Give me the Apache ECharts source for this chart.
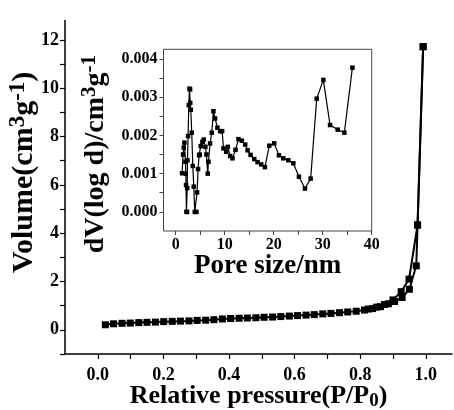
<!DOCTYPE html>
<html>
<head>
<meta charset="utf-8">
<script src="https://cdn.jsdelivr.net/npm/echarts@6/dist/echarts.min.js"></script>
<style>html,body{margin:0;padding:0;background:#fff}#c{width:454px;height:410px}</style>
</head>
<body>
<div id="c"></div>
<script>
// Main isotherm (adsorption / desorption)
var adsP = [0.023,0.048,0.074,0.099,0.125,0.150,0.176,0.201,0.227,0.252,0.278,0.303,0.329,0.354,0.380,0.405,0.431,0.456,0.482,0.507,0.533,0.558,0.584,0.609,0.635,0.660,0.686,0.711,0.737,0.762,0.788,0.813,0.838,0.862,0.886,0.905,0.928,0.950,0.971,0.975,0.992];
var adsV = [0.21,0.25,0.27,0.28,0.30,0.31,0.32,0.34,0.35,0.36,0.37,0.39,0.40,0.42,0.45,0.47,0.48,0.49,0.50,0.52,0.53,0.55,0.57,0.59,0.61,0.63,0.66,0.68,0.71,0.74,0.77,0.82,0.88,0.96,1.08,1.17,1.34,1.68,2.65,4.34,11.72];
var desP = [0.992,0.975,0.949,0.925,0.900,0.874,0.850,0.825];
var desV = [11.72,4.34,2.10,1.58,1.24,1.05,0.94,0.86];
// Inset: pore size distribution
var poreD = [1.29,1.5,1.64,1.77,1.98,2.05,2.1,2.18,2.3,2.34,2.39,2.52,2.66,2.8,2.93,2.96,3.07,3.27,3.48,3.68,3.88,4.22,4.35,4.56,4.76,4.9,5.1,5.44,5.71,6.05,6.26,6.53,6.67,7.01,7.35,7.69,8.03,8.51,9.06,9.47,9.74,10.29,10.63,11.1,11.58,12.2,12.8,13.5,14.18,14.66,15.27,16.02,16.7,17.45,18.2,19.09,20.1,21.06,21.95,22.97,24.0,25.15,26.38,27.54,28.77,30.13,31.5,33.06,34.42,36.06];
var poreV = [0.00101,0.0015,0.00168,0.00181,0.00131,0.00100,0.00070,0.0,0.0,0.00062,0.00135,0.00198,0.00279,0.00322,0.00320,0.00285,0.00267,0.00207,0.00120,0.00066,0.0,0.0,0.00051,0.00112,0.00148,0.00150,0.00172,0.00183,0.00189,0.00170,0.00150,0.00100,0.00131,0.00179,0.00207,0.00263,0.00244,0.00220,0.00211,0.00211,0.00166,0.00157,0.00170,0.00146,0.00140,0.00162,0.00190,0.00186,0.00176,0.00161,0.00149,0.00138,0.00130,0.00124,0.00117,0.00173,0.00179,0.00148,0.00140,0.00135,0.00127,0.00092,0.00061,0.00087,0.00296,0.00345,0.00227,0.00215,0.00207,0.00377];
var mainXTicks = [0,0.1,0.2,0.3,0.4,0.5,0.6,0.7,0.8,0.9,1.0];
var mainXLabels = [0,0.2,0.4,0.6,0.8,1.0];
var mainYTicks = [-1,0,1,2,3,4,5,6,7,8,9,10,11,12];
var mainYLabels = [0,2,4,6,8,10,12];
var insetXTicks = [0,5,10,15,20,25,30,35,40];
var insetXLabels = [0,10,20,30,40];
var insetYTicks = [0,0.0005,0.001,0.0015,0.002,0.0025,0.003,0.0035,0.004];
var insetYLabels = [0,0.001,0.002,0.003,0.004];

function pairs(a,b){var r=[];for(var i=0;i<a.length;i++)r.push([a[i],b[i]]);return r;}
var FF = 'Liberation Serif';
var chart = echarts.init(document.getElementById('c'), null, {renderer:'canvas'});
var supRich = {
  n:{fontSize:30,fontWeight:'bold',fontFamily:FF,color:'#000',lineHeight:34},
  s:{fontSize:23,fontWeight:'bold',fontFamily:FF,color:'#000',lineHeight:22,verticalAlign:'top'}
};
var supRich2 = {
  n:{fontSize:28,fontWeight:'bold',fontFamily:FF,color:'#000',lineHeight:32},
  s:{fontSize:21,fontWeight:'bold',fontFamily:FF,color:'#000',lineHeight:21,verticalAlign:'top'}
};
chart.setOption({
  backgroundColor:'#fff',
  animation:false,
  grid:[
    {left:65,right:2,top:20.6,bottom:56,containLabel:false,outerBoundsMode:'none'},
    {left:163.5,top:49.3,width:208.2,height:181.7,show:true,borderColor:'#444',borderWidth:1,backgroundColor:'#fff',containLabel:false,outerBoundsMode:'none'}
  ],
  xAxis:[
    {type:'value',gridIndex:0,min:-0.1,max:1.08,nameMoveOverlap:false,
     axisLine:{show:true,onZero:false,lineStyle:{color:'#000',width:1.5}},
     axisTick:{show:true,inside:false,length:5,customValues:mainXTicks,lineStyle:{color:'#000',width:1.2}},
     axisLabel:{customValues:mainXLabels,margin:12,fontSize:18,fontWeight:'bold',fontFamily:FF,color:'#000',formatter:function(v){return v.toFixed(1);}},
     splitLine:{show:false},
     name:'{n|Relative pressure(P/P}{b|0}{n|)}',nameLocation:'middle',nameGap:27,
     nameTextStyle:{rich:{n:{fontSize:26,fontWeight:'bold',fontFamily:FF,color:'#000',lineHeight:30},b:{fontSize:19,fontWeight:'bold',fontFamily:FF,color:'#000',lineHeight:19,verticalAlign:'bottom'}}}
    },
    {type:'value',gridIndex:1,min:-2.5,max:40,nameMoveOverlap:false,
     axisLine:{show:false,onZero:false},
     axisTick:{show:true,inside:false,length:4,customValues:insetXTicks,lineStyle:{color:'#444',width:1}},
     axisLabel:{customValues:insetXLabels,margin:6,fontSize:16,fontWeight:'bold',fontFamily:FF,color:'#000'},
     splitLine:{show:false},
     name:'Pore size/nm',nameLocation:'middle',nameGap:22,
     nameTextStyle:{fontSize:27,fontWeight:'bold',fontFamily:FF,color:'#000'}
    }
  ],
  yAxis:[
    {type:'value',gridIndex:0,min:-1,max:12.8,nameMoveOverlap:false,
     axisLine:{show:true,onZero:false,lineStyle:{color:'#000',width:1.5}},
     axisTick:{show:true,inside:false,length:5,customValues:mainYTicks,lineStyle:{color:'#000',width:1.2}},
     axisLabel:{customValues:mainYLabels,margin:6,fontSize:18,fontWeight:'bold',fontFamily:FF,color:'#000'},
     splitLine:{show:false},
     name:'{n|Volume(cm}{s|3}{n|g}{s|-1}{n|)}',nameLocation:'middle',nameGap:24,nameRotate:90,
     nameTextStyle:{rich:supRich,padding:[0,0,0,30]}
    },
    {type:'value',gridIndex:1,min:-0.0005,max:0.00425,nameMoveOverlap:false,
     axisLine:{show:false,onZero:false},
     axisTick:{show:true,inside:false,length:4,customValues:insetYTicks,lineStyle:{color:'#444',width:1}},
     axisLabel:{customValues:insetYLabels,margin:6,fontSize:16,fontWeight:'bold',fontFamily:FF,color:'#000',formatter:function(v){return v.toFixed(3);}},
     splitLine:{show:false},
     name:'{n|dV(log d)/cm}{s|3}{n|g}{s|-1}',nameLocation:'middle',nameGap:52,nameRotate:90,
     nameTextStyle:{rich:supRich2,padding:[0,28,0,0]}
    }
  ],
  series:[
    {type:'line',xAxisIndex:0,yAxisIndex:0,data:pairs(adsP,adsV),symbol:'rect',symbolSize:7,showAllSymbol:true,
     lineStyle:{color:'#000',width:2},itemStyle:{color:'#000'}},
    {type:'line',xAxisIndex:0,yAxisIndex:0,data:pairs(desP,desV),symbol:'rect',symbolSize:7,showAllSymbol:true,
     lineStyle:{color:'#000',width:2},itemStyle:{color:'#000'}},
    {type:'line',xAxisIndex:1,yAxisIndex:1,data:pairs(poreD,poreV),symbol:'rect',symbolSize:4.5,showAllSymbol:true,
     lineStyle:{color:'#000',width:1.2},itemStyle:{color:'#000'}}
  ]
});
</script>
</body>
</html>
